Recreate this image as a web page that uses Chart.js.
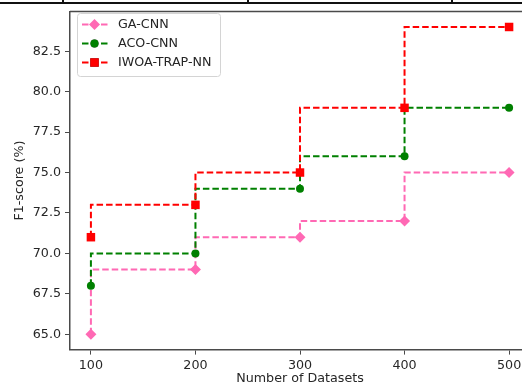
<!DOCTYPE html>
<html>
<head>
<meta charset="utf-8">
<script src="https://cdn.jsdelivr.net/npm/chart.js@4"></script>
<style>
  body { margin: 0; background: #fff; }
  #wrap { position: relative; width: 522px; height: 390px; overflow: hidden; }
  #wrap canvas { position: absolute; left: 0; top: 0; }
  .rule { position: absolute; background: #111; }
</style>
</head>
<body>
<div id="wrap">
  <canvas id="chart" width="545" height="390"></canvas>
  <!-- bits of the table border above the figure -->
  <div class="rule" style="left:0;top:2px;width:522px;height:2px"></div>
  <div class="rule" style="left:62px;top:0;width:2px;height:3px"></div>
  <div class="rule" style="left:247px;top:0;width:2px;height:3px"></div>
  <div class="rule" style="left:451px;top:0;width:2px;height:3px"></div>
</div>
<script>
const datasetSizes = [100, 200, 300, 400, 500];
const gaCnn = [65, 69, 71, 72, 75];
const acoCnn = [68, 70, 74, 76, 79];
const iwoaTrapNn = [71, 73, 75, 79, 84];
const xTicks = [100, 200, 300, 400, 500];
const yTicks = [65, 67.5, 70, 72.5, 75, 77.5, 80, 82.5];

const FONT = 'DejaVu Sans';
const TEXT = '#262626';
const SPINE = '#4a4a4a';

const series = [
  { label: 'GA-CNN', values: gaCnn, color: '#ff69b4', style: 'rectRot', radius: 5.5, order: 3 },
  { label: 'ACO-CNN', values: acoCnn, color: '#008000', style: 'circle', radius: 4, order: 2 },
  { label: 'IWOA-TRAP-NN', values: iwoaTrapNn, color: '#ff0000', style: 'rect', radius: 6, order: 1 },
];

// matplotlib-style legend box in the upper left corner
const legendBox = {
  id: 'legendBox',
  afterDatasetsDraw(chart) {
    const ctx = chart.ctx;
    const x0 = 77, y0 = 13, w = 143, h = 63;
    ctx.save();
    ctx.beginPath();
    ctx.roundRect(x0 + 0.5, y0 + 0.5, w, h, 3);
    ctx.fillStyle = 'rgba(255,255,255,0.85)';
    ctx.fill();
    ctx.strokeStyle = '#d4d4d4';
    ctx.lineWidth = 1;
    ctx.stroke();
    series.forEach((s, i) => {
      const y = 24.5 + i * 19;
      ctx.beginPath();
      ctx.setLineDash([6.5, 3]);
      ctx.strokeStyle = s.color;
      ctx.lineWidth = 2;
      ctx.moveTo(82, y);
      ctx.lineTo(108, y);
      ctx.stroke();
      ctx.setLineDash([]);
      Chart.helpers.drawPoint(ctx, {
        pointStyle: s.style, radius: s.radius, borderWidth: 0, rotation: 0
      }, 94.5, y);
      ctx.fillStyle = s.color;
      ctx.fill();
      ctx.fillStyle = TEXT;
      ctx.font = '12.7px "' + FONT + '"';
      ctx.textBaseline = 'middle';
      ctx.fillText(s.label, 118, y + 0.5);
    });
    ctx.restore();
  },
  afterDraw(chart) {
    // top spine only, the right one falls outside the picture
    const { left, right, top } = chart.chartArea;
    const ctx = chart.ctx;
    ctx.save();
    ctx.strokeStyle = SPINE;
    ctx.lineWidth = 1.5;
    ctx.beginPath();
    ctx.moveTo(left, top);
    ctx.lineTo(right + 20, top);
    ctx.stroke();
    ctx.restore();
  }
};

new Chart(document.getElementById('chart'), {
  type: 'line',
  data: {
    datasets: series.map(s => ({
      label: s.label,
      data: datasetSizes.map((x, i) => ({ x, y: s.values[i] })),
      borderColor: s.color,
      backgroundColor: s.color,
      borderWidth: 2,
      borderDash: [6.5, 3],
      stepped: 'after',
      pointStyle: s.style,
      pointRadius: s.radius,
      pointBorderWidth: 0,
      pointBackgroundColor: s.color,
      order: s.order,
      clip: false,
    })),
  },
  options: {
    responsive: false,
    animation: false,
    events: [],
    layout: { padding: { top: 6.5, right: 15, bottom: 0, left: 0 } },
    plugins: { legend: { display: false }, tooltip: { enabled: false } },
    scales: {
      x: {
        type: 'linear',
        min: 80,
        max: 520,
        afterFit: a => { a.height = 40.4; },
        afterBuildTicks: a => { a.ticks = xTicks.map(v => ({ value: v })); },
        grid: { drawOnChartArea: false, drawTicks: true, tickLength: 5, color: SPINE, lineWidth: 1 },
        border: { display: true, color: SPINE, width: 1.5 },
        ticks: { color: TEXT, padding: 3, font: { family: FONT, size: 12.7 }, maxRotation: 0 },
        title: { display: true, text: 'Number of Datasets', color: TEXT,
                 font: { family: FONT, size: 12.7 }, padding: { top: 0, bottom: 4 } },
      },
      y: {
        type: 'linear',
        min: 64.05,
        max: 84.95,
        afterFit: a => { a.width = 70; },
        afterBuildTicks: a => { a.ticks = yTicks.map(v => ({ value: v })); },
        grid: { drawOnChartArea: false, drawTicks: true, tickLength: 5, color: SPINE, lineWidth: 1 },
        border: { display: true, color: SPINE, width: 1.5 },
        ticks: { color: TEXT, padding: 4, font: { family: FONT, size: 12.7 },
                 callback: v => v.toFixed(1) },
        title: { display: true, text: 'F1-score (%)', color: TEXT,
                 font: { family: FONT, size: 12.7 }, padding: { top: 12.4, bottom: 0 } },
      },
    },
  },
  plugins: [legendBox],
});
</script>
</body>
</html>
